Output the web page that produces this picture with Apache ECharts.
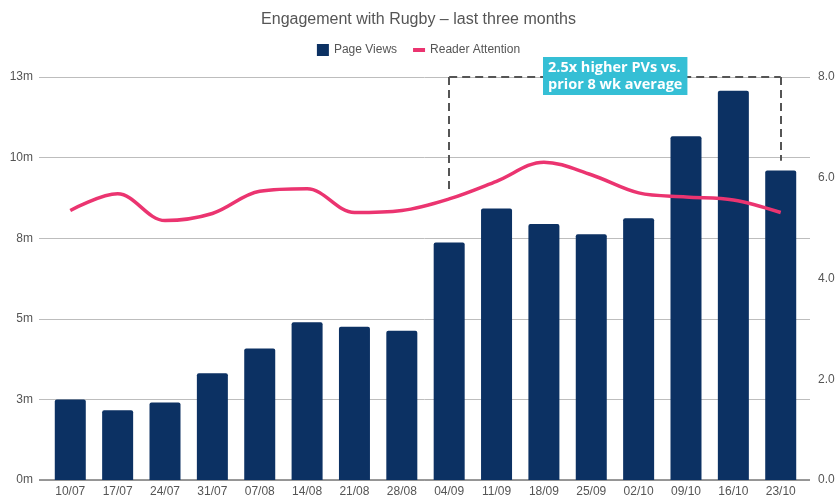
<!DOCTYPE html>
<html>
<head>
<meta charset="utf-8">
<script src="https://cdn.jsdelivr.net/npm/echarts@6/dist/echarts.min.js"></script>
<style>html,body{margin:0;padding:0;background:#fff}#c{width:837px;height:496px}</style>
</head>
<body>
<div id="c"></div>
<script>
const categories = ['10/07','17/07','24/07','31/07','07/08','14/08','21/08','28/08','04/09','11/09','18/09','25/09','02/10','09/10','16/10','23/10'];
const pageViews = [2.50e6,2.16e6,2.40e6,3.31e6,4.08e6,4.89e6,4.75e6,4.63e6,7.37e6,8.42e6,7.94e6,7.62e6,8.12e6,10.66e6,12.07e6,9.60e6];
const readerAttention = [5.35,5.68,5.15,5.29,5.73,5.78,5.31,5.35,5.58,5.93,6.31,6.06,5.70,5.62,5.56,5.31];
const leftTicks = {min:0, max:12.5e6, interval:2.5e6};
const rightTicks = {min:0, max:8, interval:2};
const annotationText = '2.5x higher PVs vs.\nprior 8 wk average';
const bracketStart = '04/09', bracketEnd = '23/10';
const bracketTop = 12.5e6, bracketLeftEnd = 8.9e6, bracketRightEnd = 9.9e6;

const chart = echarts.init(document.getElementById('c'));
const grey = '#555';
const dash = {color:'#555', width:2, type:[8,5]};
chart.setOption({
  animation:false,
  textStyle:{fontFamily:'Liberation Sans, Arial, sans-serif'},
  title:{text:'Engagement with Rugby \u2013 last three months', left:'center', top:7,
    textStyle:{fontSize:16, fontWeight:'normal', color:grey}},
  legend:{top:39, left:'center', itemGap:16, itemWidth:12, itemHeight:12,
    textStyle:{fontSize:12, color:grey},
    data:[{name:'Page Views', icon:'rect'},
          {name:'Reader Attention', icon:'path://M0,4h12v4h-12z', itemStyle:{color:'#eb3470'}}]},
  grid:[
    {left:39, right:27, top:77, bottom:16, outerBoundsMode:'none', containLabel:false},
    {left:46.6, right:32.6, top:77, bottom:16, outerBoundsMode:'none', containLabel:false}
  ],
  xAxis:[
    {gridIndex:0, type:'value', min:0, max:1, show:false},
    {gridIndex:1, type:'category', data:categories,
      axisLine:{show:false}, axisTick:{show:false},
      axisLabel:{color:grey, fontSize:12, margin:6, interval:0}}
  ],
  yAxis:[
    {gridIndex:0, type:'value', ...leftTicks, position:'left',
      axisLine:{show:false}, axisTick:{show:false},
      axisLabel:{color:grey, fontSize:12, margin:6, formatter:v=>Math.round(v/1e6)+'m'},
      splitLine:{lineStyle:{color:'#bdbdbd', width:1}}},
    {gridIndex:0, type:'value', ...rightTicks, position:'right',
      axisLine:{show:false}, axisTick:{show:false}, splitLine:{show:false},
      axisLabel:{color:grey, fontSize:12, margin:8, formatter:v=>v.toFixed(1)}},
    {gridIndex:1, type:'value', ...leftTicks, show:false},
    {gridIndex:1, type:'value', ...rightTicks, show:false}
  ],
  series:[
    {name:'axisline', type:'line', xAxisIndex:0, yAxisIndex:0, data:[[0,0],[1,0]],
      symbol:'none', lineStyle:{color:'#777', width:1.5}, silent:true, z:1, legendHoverLink:false},
    {name:'Page Views', type:'bar', xAxisIndex:1, yAxisIndex:2, data:pageViews,
      barWidth:31, itemStyle:{color:'#0c3163', borderRadius:[2,2,0,0]}, z:2,
      markLine:{silent:true, symbol:'none', label:{show:false}, lineStyle:dash, z:3,
        data:[
          [{coord:[bracketStart,bracketTop]},{coord:[bracketEnd,bracketTop]}],
          [{coord:[bracketStart,bracketTop]},{coord:[bracketStart,bracketLeftEnd]}],
          [{coord:[bracketEnd,bracketTop]},{coord:[bracketEnd,bracketRightEnd]}]
        ]}},
    {name:'Reader Attention', type:'line', xAxisIndex:1, yAxisIndex:3, data:readerAttention,
      smooth:0.35, symbol:'none', lineStyle:{color:'#eb3470', width:3.5}, itemStyle:{color:'#eb3470'}, z:4}
  ],
  graphic:[{
    type:'text', left:543, top:57, z:100,
    style:{text:annotationText, fill:'#fff', font:'bold 14.5px "Open Sans", Lato, sans-serif',
      backgroundColor:'#35bfd5', padding:[2,5,2,5], lineHeight:17, align:'center'}
  }]
});
</script>
</body>
</html>
